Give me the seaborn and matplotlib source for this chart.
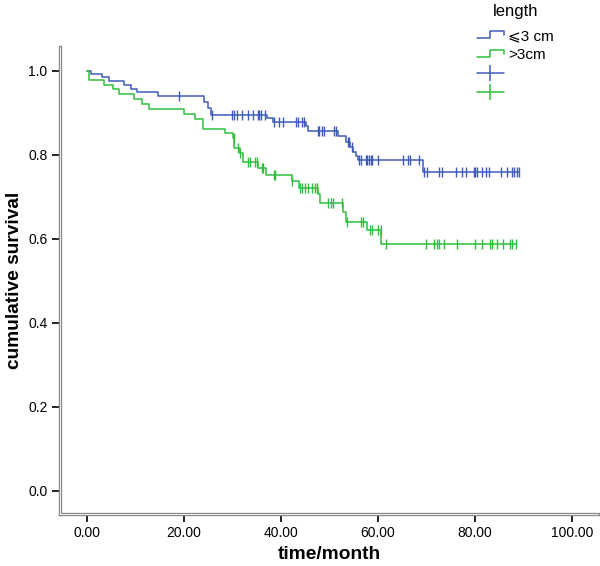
import numpy as np
import pandas as pd
import matplotlib
matplotlib.use('Agg')
import matplotlib.pyplot as plt
import seaborn as sns
from matplotlib.lines import Line2D
from matplotlib.legend_handler import HandlerBase

# Kaplan-Meier basamaklari (zaman, sagkalim)
blue_t = [0, 0.8, 3.2, 4.5, 7.7, 9.1, 10.4, 14.6, 24.2, 24.9, 25.5, 37.2, 38.4,
          45.2, 45.6, 51.7, 53.4, 54.3, 54.9, 55.5, 55.9, 69.3]
blue_s = [1.0, 0.993, 0.985, 0.977, 0.967, 0.958, 0.949, 0.941, 0.925, 0.912, 0.896, 0.887, 0.878,
          0.868, 0.858, 0.845, 0.831, 0.819, 0.808, 0.798, 0.788, 0.759]
blue_cens = [19.0, 25.8, 30.0, 30.4, 30.9, 31.9, 33.3, 34.2, 35.2, 35.5, 35.9, 36.7,
             38.6, 39.6, 40.5, 43.2, 43.6, 44.3, 44.7, 47.6, 47.9, 48.4, 48.9, 50.9, 51.3,
             53.8, 54.1, 54.6, 56.1, 56.5, 57.5, 57.8, 58.1, 58.5, 58.8, 60.1, 65.1, 66.2,
             66.7, 68.5, 69.5, 70.2, 72.6, 73.3, 76.0, 77.4, 78.1, 79.8, 80.1, 80.5, 81.5,
             82.2, 82.9, 85.3, 86.5, 87.7, 88.0, 88.7, 89.0]

green_t = [0, 0.4, 3.5, 5.4, 6.6, 9.7, 11.3, 12.8, 20.0, 22.2, 23.9, 28.5, 30.2, 30.4,
           31.5, 32.2, 35.2, 36.9, 42.2, 43.8, 47.7, 48.0, 52.7, 53.4, 57.7, 60.7]
green_s = [1.0, 0.979, 0.967, 0.956, 0.944, 0.933, 0.921, 0.909, 0.897, 0.885, 0.862, 0.852,
           0.840, 0.816, 0.804, 0.784, 0.769, 0.752, 0.737, 0.722, 0.706, 0.685, 0.664, 0.641,
           0.620, 0.587]
green_cens = [30.3, 31.1, 31.6, 33.3, 33.6, 34.6, 35.0, 36.0, 36.4, 38.6, 38.8, 42.2,
              43.9, 44.3, 45.0, 45.6, 46.3, 47.0, 47.4, 49.8, 50.3, 50.8, 52.5, 53.7, 56.6,
              57.0, 58.4, 58.7, 60.1, 60.6, 61.6, 70.0, 71.5, 72.1, 72.5, 73.7, 76.2, 80.0,
              81.4, 83.1, 83.6, 84.5, 85.7, 87.2, 87.6, 88.4]

groups = ['⩽3 cm', '>3cm']
colors = {'⩽3 cm': '#3f5bb8', '>3cm': '#2fbf3c'}
x_ticks = [0, 20, 40, 60, 80, 100]
y_ticks = [0.0, 0.2, 0.4, 0.6, 0.8, 1.0]


def step_at(t, s, c):
    idx = np.searchsorted(t, c, side='right') - 1
    return np.array(s)[idx]


rows = []
cens_rows = []
for g, t, s, cens in [(groups[0], blue_t, blue_s, blue_cens),
                      (groups[1], green_t, green_s, green_cens)]:
    tt = list(t) + [max(cens)]
    ss = list(s) + [s[-1]]
    rows.append(pd.DataFrame({'time': tt, 'surv': ss, 'grup': g}))
    cens_rows.append(pd.DataFrame({'time': cens, 'surv': step_at(t, s, cens), 'grup': g}))
df = pd.concat(rows, ignore_index=True)
df_c = pd.concat(cens_rows, ignore_index=True)

sns.set_style('ticks')
plt.rcParams['font.family'] = ['Liberation Sans', 'DejaVu Sans']
plt.rcParams['text.color'] = 'black'
plt.rcParams['axes.labelcolor'] = 'black'
plt.rcParams['xtick.color'] = 'black'
plt.rcParams['ytick.color'] = 'black'

fig = plt.figure(figsize=(6, 5.66), dpi=100)
ax = fig.add_axes([0.1, 0.092, 0.897, 0.825])

sns.lineplot(data=df, x='time', y='surv', hue='grup', palette=colors, estimator=None,
             sort=False, drawstyle='steps-post', linewidth=1.1, legend=False, ax=ax)
for g in groups:
    sub = df_c[df_c['grup'] == g]
    ax.plot(sub['time'], sub['surv'], linestyle='none', marker='|', markersize=7,
            markeredgewidth=1.0, color=colors[g])

ax.set_xlim(-5.55, 105.4)
ax.set_ylim(-0.055, 1.057)
ax.set_xticks(x_ticks)
ax.set_xticklabels([f'{v:.2f}' for v in x_ticks], fontsize=10)
ax.set_yticks(y_ticks)
ax.set_yticklabels([f'{v:.1f}' for v in y_ticks], fontsize=10)
ax.tick_params(direction='out', length=6, width=1.2, color='black', pad=3)
ax.set_xlabel('time/month', fontsize=13.8, fontweight='bold', labelpad=4)
ax.set_ylabel('cumulative survival', fontsize=13.8, fontweight='bold', labelpad=4)

sns.despine(ax=ax)
for side in ['left', 'bottom']:
    ax.spines[side].set_color('#8a8a8a')
    ax.spines[side].set_linewidth(2.4)
ax.plot([0, 0], [0, 1], transform=ax.transAxes, color='white', lw=0.6, clip_on=False, zorder=3)
ax.plot([0, 1], [0, 0], transform=ax.transAxes, color='white', lw=0.6, clip_on=False, zorder=3)


class StepHandler(HandlerBase):
    def create_artists(self, legend, orig_handle, xdescent, ydescent, width, height,
                       fontsize, trans):
        x = np.array([0, 0.5, 0.5, 1.0, 1.0]) * width - xdescent
        y = np.array([0.15, 0.15, 0.85, 0.85, 0.5]) * height - ydescent
        line = Line2D(x, y, color=orig_handle.get_color(), lw=1.1)
        line.set_transform(trans)
        return [line]


step_handles = [Line2D([], [], color=colors[g]) for g in groups]
cens_handles = [Line2D([], [], color=colors[g], lw=1.1, marker='|', markersize=11,
                       markeredgewidth=1.1) for g in groups]
leg = fig.legend(step_handles + cens_handles, groups + ['', ''], loc='upper left',
                 bbox_to_anchor=(0.772, 1.018), frameon=False, title='length', fontsize=11,
                 title_fontsize=12, handlelength=1.75, handletextpad=0.3, labelspacing=0.33,
                 numpoints=1,
                 handler_map={h: StepHandler() for h in step_handles})
leg._legend_box.sep = 7.5

fig.savefig('out.png', dpi=100)
